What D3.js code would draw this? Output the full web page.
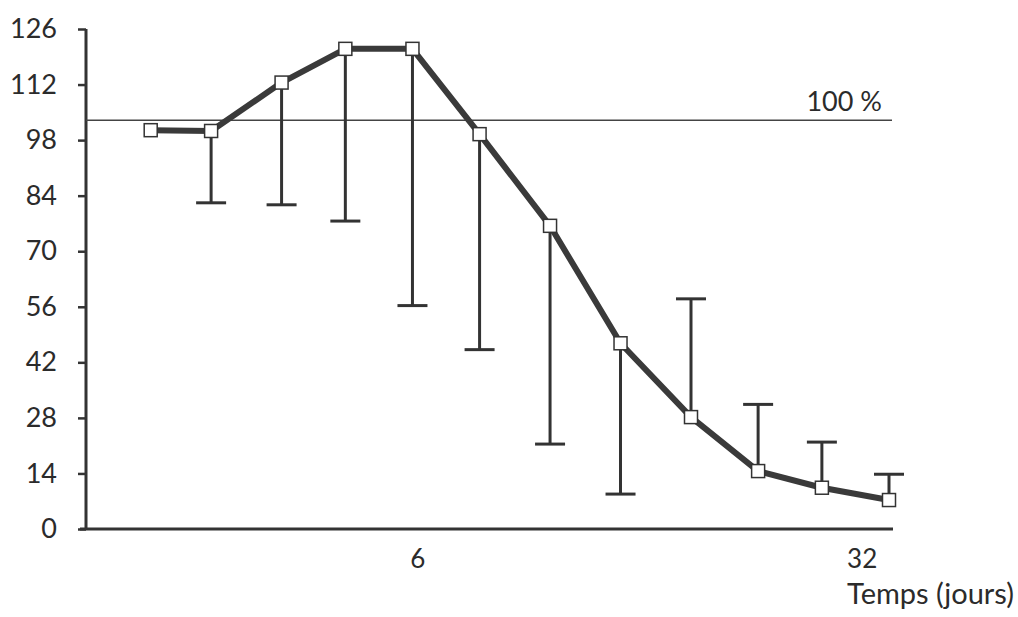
<!DOCTYPE html>
<html>
<head>
<meta charset="utf-8">
<script src="https://cdn.jsdelivr.net/npm/d3@7"></script>
<style>
    body { margin: 0; background: #fff; }
    svg { display: block; }
    text { font-family: "Lato", "Open Sans", sans-serif; fill: #2b2b2b; }
</style>
</head>
<body>
<svg width="1018" height="617"></svg>
<script>
// position of each sample along the time axis (slot units)
const slots = [0, 0.9, 1.95, 2.9, 3.9, 4.9, 5.95, 7, 8.05, 9.05, 10, 11];
// mean value (%) at each sample
const means = [100.5, 100.3, 112.5, 121, 121, 99.5, 76.4, 46.8, 28.2, 14.6, 10.4, 7.3];
// end of the error bar (below the mean first, above it at the end)
const errEnds = [null, 82.2, 81.7, 77.6, 56.3, 45.2, 21.4, 8.8, 58, 31.4, 21.9, 13.8];

const yTicks = [0, 14, 28, 42, 56, 70, 84, 98, 112, 126];
const xTickLabels = ["6", "32"];
const xTickSlots = [3.98, 10.6];
const refValue = 103;

const svg = d3.select("svg");
const ink = "#333";

const x = d3.scaleLinear().domain([0, 11]).range([150.7, 889]);
const y = d3.scaleLinear().domain([0, 126]).range([529, 29]);

const data = slots.map((s, i) => ({ s: s, v: means[i], e: errEnds[i] }));

// y axis
const yAxis = svg.append("g")
    .attr("transform", "translate(86,0)")
    .call(d3.axisLeft(y).tickValues(yTicks).tickSize(8).tickPadding(21));
yAxis.select(".domain").attr("stroke", ink).attr("stroke-width", 3)
    .attr("d", `M0,${y(126)}V${y(0)}`);
yAxis.selectAll(".tick line").attr("stroke", ink).attr("stroke-width", 2.5);
yAxis.selectAll(".tick text")
    .style("font-size", "27px")
    .style("font-family", '"Lato", "Open Sans", sans-serif')
    .attr("fill", "#2b2b2b");

// x axis (just the base line and two labels)
svg.append("line")
    .attr("x1", 80).attr("x2", 893)
    .attr("y1", y(0)).attr("y2", y(0))
    .attr("stroke", ink).attr("stroke-width", 3);

svg.selectAll(".xlab")
    .data(xTickLabels)
    .enter().append("text")
    .attr("class", "xlab")
    .attr("x", (d, i) => x(xTickSlots[i]))
    .attr("y", 568)
    .attr("text-anchor", "middle")
    .style("font-size", "26px")
    .text(d => d);

svg.append("text")
    .attr("x", 1014)
    .attr("y", 604)
    .attr("text-anchor", "end")
    .style("font-size", "29px")
    .text("Temps (jours)");

// 100 % reference line
svg.append("line")
    .attr("x1", 86).attr("x2", 892)
    .attr("y1", y(refValue)).attr("y2", y(refValue))
    .attr("stroke", "#444").attr("stroke-width", 1.5);

svg.append("text")
    .attr("x", 882)
    .attr("y", y(refValue) - 9)
    .attr("text-anchor", "end")
    .style("font-size", "27px")
    .text("100 %");

// error bars
const bars = svg.append("g").attr("class", "errors")
    .selectAll("g")
    .data(data.filter(d => d.e !== null))
    .enter().append("g");

bars.append("line")
    .attr("x1", d => x(d.s)).attr("x2", d => x(d.s))
    .attr("y1", d => y(d.v)).attr("y2", d => y(d.e))
    .attr("stroke", ink).attr("stroke-width", 3);

bars.append("line")
    .attr("x1", d => x(d.s) - 15).attr("x2", d => x(d.s) + 15)
    .attr("y1", d => y(d.e)).attr("y2", d => y(d.e))
    .attr("stroke", ink).attr("stroke-width", 3);

// mean line
const line = d3.line()
    .x(d => x(d.s))
    .y(d => y(d.v));

svg.append("path")
    .datum(data)
    .attr("d", line)
    .attr("fill", "none")
    .attr("stroke", "#3a3a3a")
    .attr("stroke-width", 6)
    .attr("stroke-linejoin", "round");

// square markers
svg.append("g").attr("class", "markers")
    .selectAll("rect")
    .data(data)
    .enter().append("rect")
    .attr("x", d => x(d.s) - 6.5)
    .attr("y", d => y(d.v) - 6.5)
    .attr("width", 13)
    .attr("height", 13)
    .attr("fill", "#fff")
    .attr("stroke", ink)
    .attr("stroke-width", 1.5);
</script>
</body>
</html>
